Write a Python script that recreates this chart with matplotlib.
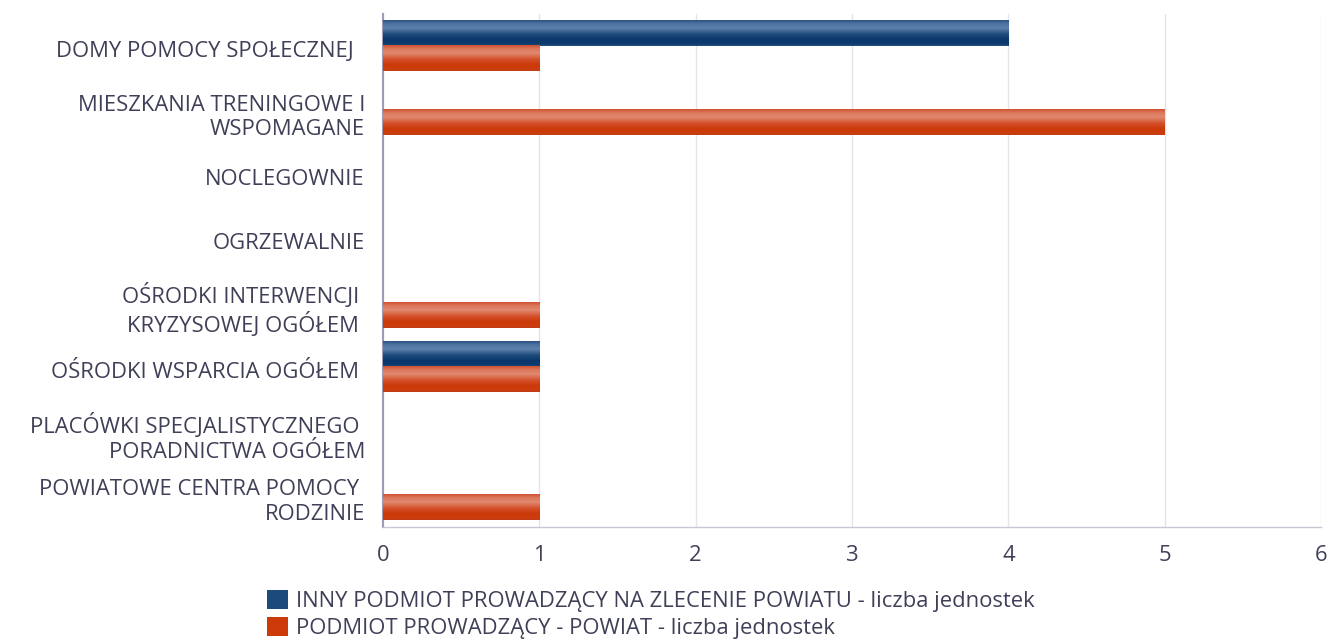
import matplotlib
matplotlib.use("Agg")
import matplotlib.pyplot as plt
import matplotlib.transforms as mtransforms
import numpy as np
from matplotlib.colors import LinearSegmentedColormap
from matplotlib.patches import Rectangle

plt.rcParams['font.family'] = ['Open Sans', 'DejaVu Sans']

categories = [
    "DOMY POMOCY SPOŁECZNEJ  ",
    "MIESZKANIA TRENINGOWE I\nWSPOMAGANE",
    "NOCLEGOWNIE",
    "OGRZEWALNIE",
    "OŚRODKI INTERWENCJI \nKRYZYSOWEJ OGÓŁEM ",
    "OŚRODKI WSPARCIA OGÓŁEM ",
    "PLACÓWKI SPECJALISTYCZNEGO \nPORADNICTWA OGÓŁEM",
    "POWIATOWE CENTRA POMOCY \nRODZINIE",
]
inny = [4, 0, 0, 0, 0, 1, 0, 0]
powiat = [1, 5, 0, 0, 1, 1, 0, 1]
series_names = [
    "INNY PODMIOT PROWADZĄCY NA ZLECENIE POWIATU - liczba jednostek",
    "PODMIOT PROWADZĄCY - POWIAT - liczba jednostek",
]
xticks = [0, 1, 2, 3, 4, 5, 6]

blue_cmap = LinearSegmentedColormap.from_list(
    "b", [(0, "#2a5384"), (0.12, "#4b70a0"), (0.3, "#5f82ad"), (0.55, "#1d4a7c"),
          (0.75, "#0b386c"), (0.92, "#0e3b6e"), (1, "#24507f")])
orange_cmap = LinearSegmentedColormap.from_list(
    "o", [(0, "#d05030"), (0.12, "#dc7558"), (0.3, "#e18a70"), (0.55, "#d4502a"),
          (0.75, "#cb3a0a"), (0.92, "#cc3c0c"), (1, "#c04018")])

text_color = "#3f4057"
fs = 15.8

fig = plt.figure(figsize=(13.30, 6.41), dpi=100)
ax = fig.add_axes([383/1330, 1-527/641, (1321-383)/1330, 513/641])

y = np.arange(len(categories))
h = 0.39
off = 0.195
b1 = ax.barh(y - off, inny, height=h, color="#0c3a6e", zorder=2)
b2 = ax.barh(y + off, powiat, height=h, color="#cc3a0a", zorder=2)

grad = np.linspace(0, 1, 64).reshape(-1, 1)
for bars, cmap in ((b1, blue_cmap), (b2, orange_cmap)):
    for p in bars:
        w = p.get_width()
        if w <= 0:
            continue
        x0, y0 = p.get_x(), p.get_y()
        hh = p.get_height()
        ax.imshow(grad, cmap=cmap, aspect="auto", extent=(x0, x0 + w, y0 + hh, y0),
                  origin="upper", zorder=3, interpolation="bilinear")

ax.set_xlim(0, 6)
ax.set_ylim(len(categories) - 0.5, -0.5)
ax.set_xticks(xticks)
ax.set_xticklabels([str(t) for t in xticks])
ax.set_yticks(y)
ax.set_yticklabels(categories, linespacing=1.2)
ax.tick_params(axis="both", length=0, labelsize=fs, colors=text_color)
ax.tick_params(axis="x", pad=13)
ax.tick_params(axis="y", pad=13)
shift = mtransforms.ScaledTranslation(0, -3/100, fig.dpi_scale_trans)
for lab in ax.get_yticklabels():
    lab.set_horizontalalignment("right")
    lab.set_multialignment("right")
    lab.set_transform(lab.get_transform() + shift)

ax.grid(axis="x", color="#e4e4ea", linewidth=1, zorder=0)
ax.set_axisbelow(True)
for s in ("top", "right"):
    ax.spines[s].set_visible(False)
ax.spines["left"].set_color("#9c9cb4")
ax.spines["left"].set_linewidth(1.5)
ax.spines["bottom"].set_color("#c8c8d4")
ax.spines["bottom"].set_linewidth(1)

# legend
handles = [Rectangle((0, 0), 1, 1, facecolor="#1d4a7c"),
           Rectangle((0, 0), 1, 1, facecolor="#cc3a0a")]
leg = fig.legend(handles, series_names, loc="upper left",
                 bbox_to_anchor=(267/1330, 1-590/641), frameon=False,
                 fontsize=fs, handlelength=0.95, handleheight=0.95,
                 handletextpad=0.35, labelspacing=0.22, borderpad=0, borderaxespad=0)
for t in leg.get_texts():
    t.set_color(text_color)

fig.savefig("out.png", dpi=100)
